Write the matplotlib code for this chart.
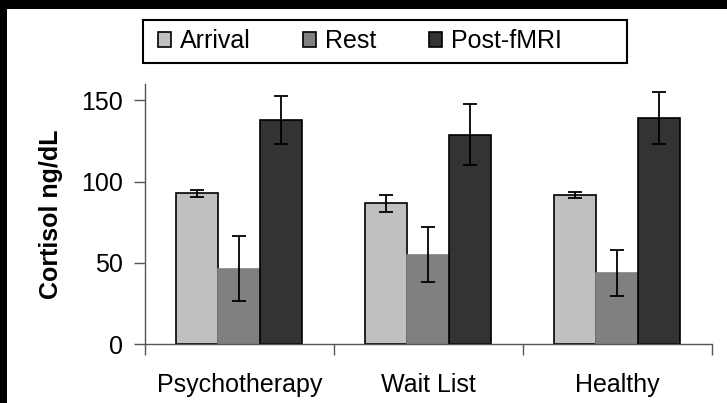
import numpy as np
import matplotlib.pyplot as plt
from matplotlib.patches import Patch, Rectangle

plt.rcParams['font.family'] = ['Liberation Sans', 'DejaVu Sans']

groups = ['Psychotherapy', 'Wait List', 'Healthy']
series = ['Arrival', 'Rest', 'Post-fMRI']
colors = ['#c0c0c0', '#808080', '#333333']
edges = ['black', '#808080', 'black']

arrival = [92.7, 86.5, 91.7]
rest = [46.2, 54.9, 43.8]
post = [137.9, 128.9, 138.9]
arrival_err = [2.0, 5.5, 2.0]
rest_err = [20.0, 17.0, 14.0]
post_err = [15.0, 19.0, 16.0]

values = [arrival, rest, post]
errors = [arrival_err, rest_err, post_err]

W, H = 727, 403
fig = plt.figure(figsize=(W / 100, H / 100), dpi=100)
fig.patch.set_facecolor('white')
# black frame strips along top and left edge
fig.patches.append(Rectangle((0, 1 - 9 / H), 1, 9 / H, transform=fig.transFigure,
                             facecolor='black', edgecolor='none'))
fig.patches.append(Rectangle((0, 0), 7 / W, 1, transform=fig.transFigure,
                             facecolor='black', edgecolor='none'))

ax = fig.add_axes([145 / W, 59 / H, 566.7 / W, 260 / H])
ax.set_facecolor('white')

x = np.arange(len(groups))
width = 1 / 4.5
for i, (vals, errs) in enumerate(zip(values, errors)):
    ax.bar(x + (i - 1) * width, vals, width, color=colors[i], edgecolor=edges[i],
           linewidth=1.2, zorder=2)
    ax.errorbar(x + (i - 1) * width, vals, yerr=errs, fmt='none', ecolor='black',
                elinewidth=1.3, capsize=5, capthick=1.3, zorder=3)

ax.set_xlim(-0.5, 2.5)
ax.set_ylim(0, 160)
ax.set_yticks([0, 50, 100, 150])
ax.set_xticks(x)
ax.set_xticklabels(groups)
ax.set_xticks([-0.5, 0.5, 1.5, 2.5], minor=True)
ax.tick_params(axis='x', which='major', length=0, pad=21, labelsize=18)
ax.tick_params(axis='x', which='minor', length=8, width=1, color='#555555', direction='out')
ax.tick_params(axis='y', length=8, width=1, color='#555555', direction='out', pad=8, labelsize=18)
for s in ['top', 'right']:
    ax.spines[s].set_visible(False)
for s in ['left', 'bottom']:
    ax.spines[s].set_color('#555555')
    ax.spines[s].set_linewidth(1)

ax.set_ylabel('Cortisol ng/dL', fontsize=18, fontweight='bold', labelpad=13)

# legend box drawn as its own frame, entries placed inside it
fig.patches.append(Rectangle((143 / W, 1 - 63 / H), 484 / W, 43 / H, transform=fig.transFigure,
                             facecolor='white', edgecolor='black', linewidth=1.5))
handles = [Patch(facecolor=c, edgecolor='black', linewidth=1.2) for c in colors]
leg = fig.legend(handles, series, loc='center left', bbox_to_anchor=(146 / W, 1 - 41.5 / H),
                 ncol=3, fontsize=18, frameon=False,
                 handlelength=0.52, handleheight=0.52, handletextpad=0.36, columnspacing=2.1,
                 borderpad=0.48, borderaxespad=0)

fig.savefig('out.png', dpi=100)
